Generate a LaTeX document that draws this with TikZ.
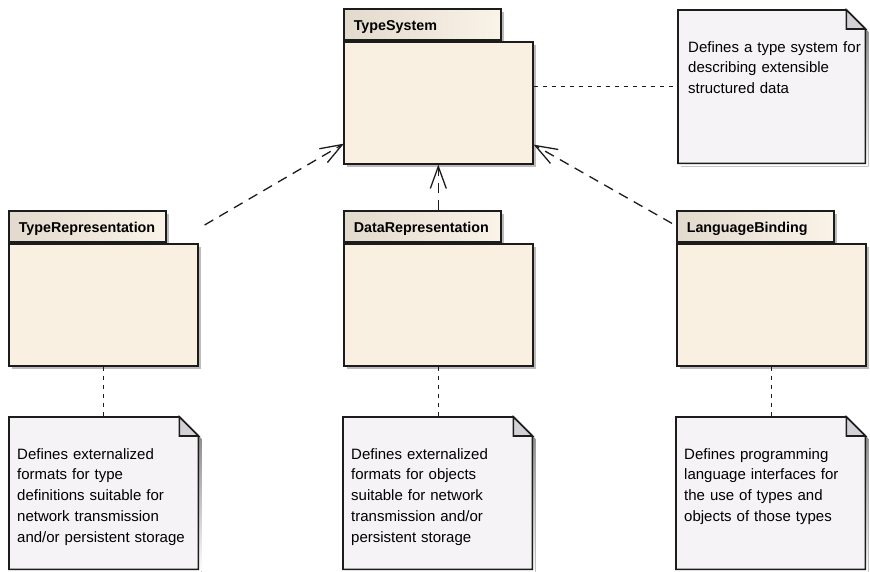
\documentclass[tikz,border=0pt]{standalone}
\usepackage{fontspec}
\setmainfont{Liberation Sans}
\usetikzlibrary{arrows.meta,calc,shadows}

\definecolor{pkgfill}{RGB}{250,240,226}
\definecolor{tableft}{RGB}{226,218,204}
\definecolor{tabright}{RGB}{250,243,232}
\definecolor{notefill}{RGB}{246,243,247}
\definecolor{foldfill}{RGB}{212,209,214}
\definecolor{edge}{RGB}{28,28,28}
\definecolor{shade}{RGB}{188,188,188}

\tikzset{
  pkgshadow/.style={drop shadow={shadow xshift=3pt, shadow yshift=-3pt, fill=shade, opacity=1}},
  pkgbody/.style={draw=edge, line width=1.6pt, fill=pkgfill, minimum width=189pt,
    minimum height=122pt, inner sep=0pt, anchor=north west, pkgshadow},
  pkgtab/.style={draw=edge, line width=1.6pt, left color=tableft, right color=tabright,
    text width=137pt, align=left, minimum height=31pt, inner xsep=10pt, inner ysep=0pt,
    text height=12pt, text depth=0pt, anchor=south west,
    font=\bfseries\fontsize{14.3}{17}\selectfont, pkgshadow},
  notebox/.style={minimum width=189pt, minimum height=152pt, inner sep=0pt, anchor=north west},
  noteedge/.style={draw=edge, line width=1.6pt, fill=notefill, line join=miter},
  foldedge/.style={draw=edge, line width=1.6pt, fill=foldfill, line join=miter},
  notetext/.style={anchor=north west, inner sep=0pt, text width=180pt, align=left,
    font=\fontsize{15}{20.8}\selectfont},
  dep/.style={draw=edge, line width=1.3pt, dash pattern=on 10pt off 7pt,
    -{Straight Barb[length=22pt,width=16pt]}},
  notelink/.style={draw=edge, line width=1.4pt, dash pattern=on 4.5pt off 4.5pt},
}

% folded-corner note outline with its shadow, drawn round a named box
\newcommand\drawnote[1]{%
  \fill[shade] ($(#1.north west)+(3,3)$) -- ($(#1.north east)+(-16,3)$)
    -- ($(#1.north east)+(3,22)$) -- ($(#1.south east)+(3,3)$)
    -- ($(#1.south west)+(3,3)$) -- cycle;
  \draw[noteedge] (#1.north west) -- ($(#1.north east)+(-19,0)$)
    -- ($(#1.north east)+(0,19)$) -- (#1.south east) -- (#1.south west) -- cycle;
  \draw[foldedge] ($(#1.north east)+(-19,0)$) -- ($(#1.north east)+(-19,19)$)
    -- ($(#1.north east)+(0,19)$) -- cycle;
}

\begin{document}
\begin{tikzpicture}[x=1pt,y=-1pt]
  \useasboundingbox[fill=white] (0,0) rectangle (870,571);

  % packages
  \node[pkgtab]  (tstab)  at (343,41) {TypeSystem};
  \node[pkgbody] (tsbody) at (343,41) {};
  \node[pkgtab]  (trtab)  at (8,243) {TypeRepresentation};
  \node[pkgbody] (trbody) at (8,243) {};
  \node[pkgtab]  (drtab)  at (343,243) {DataRepresentation};
  \node[pkgbody] (drbody) at (343,243) {};
  \node[pkgtab]  (lbtab)  at (676,243) {LanguageBinding};
  \node[pkgbody] (lbbody) at (676,243) {};

  % notes
  \node[notebox, minimum width=187pt, minimum height=153pt] (tsnote) at (678,10) {};
  \drawnote{tsnote}
  \node[notetext] (tsnotetxt) at ($(tsnote.north west)+(10,31)$)
    {Defines a type system for\\describing extensible\\structured data};

  \node[notebox] (trnote) at (9,417) {};
  \drawnote{trnote}
  \node[notetext] (trnotetxt) at ($(trnote.north west)+(8,31)$)
    {Defines externalized\\formats for type\\definitions suitable for\\network transmission\\and/or persistent storage};

  \node[notebox] (drnote) at (343,417) {};
  \drawnote{drnote}
  \node[notetext] (drnotetxt) at ($(drnote.north west)+(8,31)$)
    {Defines externalized\\formats for objects\\suitable for network\\transmission and/or\\persistent storage};

  \node[notebox] (lbnote) at (676,417) {};
  \drawnote{lbnote}
  \node[notetext] (lbnotetxt) at ($(lbnote.north west)+(8,31)$)
    {Defines programming\\language interfaces for\\the use of types and\\objects of those types};

  % dependencies on TypeSystem
  \coordinate (trfrom) at ($(trbody.north east)+(6,-18)$);
  \coordinate (trto)   at ($(tsbody.south west)+(1,-21)$);
  \coordinate (lbfrom) at ($(lbtab.north west)+(-4,13)$);
  \coordinate (lbto)   at ($(tsbody.south east)+(0,-20)$);
  \draw[dep] (trfrom) -- (trto);
  \draw[dep] (drtab.north -| tsbody.south) -- (tsbody.south);
  \draw[dep] (lbfrom) -- (lbto);

  % note attachments
  \draw[notelink] (tsnote.west -| tsbody.east) -- (tsnote.west);
  \draw[notelink] (trbody.south) -- (trnote.north -| trbody.south);
  \draw[notelink] (drbody.south) -- (drnote.north -| drbody.south);
  \draw[notelink] (lbbody.south) -- (lbnote.north -| lbbody.south);
\end{tikzpicture}
\end{document}
